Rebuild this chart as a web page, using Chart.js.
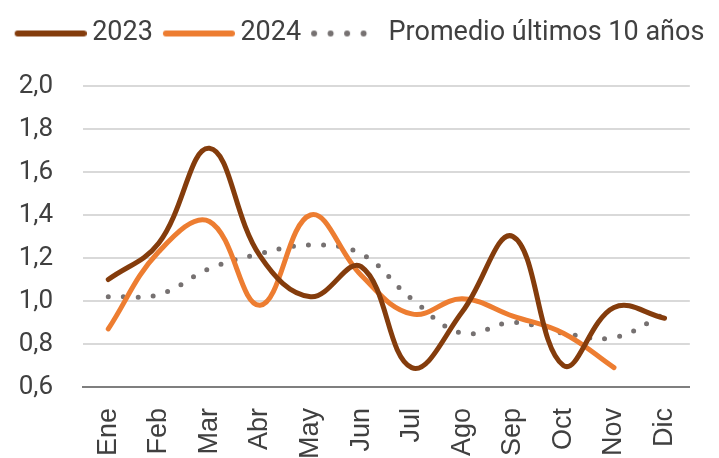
<!DOCTYPE html>
<html>
	<head>
		<title>Promedio mensual</title>
        <meta charset="UTF-8">
        <script src="https://cdn.jsdelivr.net/npm/chart.js@4"></script>
        <style>
            html, body { margin: 0; padding: 0; background: #fff; }
            #wrap { width: 719px; height: 458px; position: relative; }
        </style>
	</head>
	<body>
		<div id="wrap"><canvas id="myChart"></canvas></div>
		<script>
            // categories and values
            const months = ['Ene', 'Feb', 'Mar', 'Abr', 'May', 'Jun', 'Jul', 'Ago', 'Sep', 'Oct', 'Nov', 'Dic'];
            const values2023 = [1.10, 1.27, 1.71, 1.21, 1.02, 1.16, 0.69, 0.95, 1.30, 0.70, 0.97, 0.92];
            const values2024 = [0.87, 1.23, 1.37, 0.98, 1.40, 1.12, 0.94, 1.01, 0.93, 0.85, 0.69, null];
            const promedio = [1.02, 1.03, 1.15, 1.22, 1.26, 1.22, 1.01, 0.85, 0.90, 0.85, 0.83, 0.94];
            const seriesNames = ['2023', '2024', 'Promedio últimos 10 años'];
            const yTicks = [0.6, 0.8, 1.0, 1.2, 1.4, 1.6, 1.8, 2.0];

            const textColor = '#404040';

            // small legend swatch drawn as an image, line on the right part of it
            function swatch(color, width, dash){
                const c = document.createElement('canvas');
                c.width = 80; c.height = 10;
                const g = c.getContext('2d');
                g.strokeStyle = color;
                g.lineWidth = width;
                g.lineCap = 'round';
                g.setLineDash(dash);
                g.beginPath();
                g.moveTo(11, 5);
                g.lineTo(77, 5);
                g.stroke();
                return c;
            }

            // extra space under the legend
            const legendGap = {
                id: 'legendGap',
                beforeInit(chart){
                    const fit = chart.legend.fit;
                    chart.legend.fit = function(){
                        fit.bind(chart.legend)();
                        this.height += 29;
                    };
                }
            };

            const ctx = document.getElementById('myChart').getContext('2d');
            const chart = new Chart(ctx, {
                type: 'line',
                data: {
                    labels: months,
                    datasets: [{
                        label: seriesNames[0],
                        data: values2023,
                        borderColor: '#843C0C',
                        backgroundColor: '#843C0C',
                        borderWidth: 5,
                        borderCapStyle: 'round',
                        pointRadius: 0,
                        tension: 0.4,
                        fill: false,
                        legendSwatch: swatch('#843C0C', 6, [])
                    }, {
                        label: seriesNames[1],
                        data: values2024,
                        borderColor: '#ED7D31',
                        backgroundColor: '#ED7D31',
                        borderWidth: 5,
                        borderCapStyle: 'round',
                        pointRadius: 0,
                        tension: 0.4,
                        fill: false,
                        legendSwatch: swatch('#ED7D31', 6, [])
                    }, {
                        label: seriesNames[2],
                        data: promedio,
                        borderColor: '#767171',
                        backgroundColor: '#767171',
                        borderWidth: 5,
                        borderCapStyle: 'round',
                        borderDash: [0, 15],
                        pointRadius: 0,
                        tension: 0.4,
                        fill: false,
                        legendSwatch: swatch('#767171', 6, [0, 16.5])
                    }]
                },
                plugins: [legendGap],
                options: {
                    responsive: true,
                    maintainAspectRatio: false,
                    animation: false,
                    layout: { padding: { left: 0, right: 0, top: 10, bottom: 0 } },
                    plugins: {
                        tooltip: { enabled: false },
                        legend: {
                            position: 'top',
                            labels: {
                                usePointStyle: true,
                                pointStyleWidth: 64,
                                boxHeight: 10,
                                padding: 10,
                                color: textColor,
                                font: { family: 'Roboto', size: 27 },
                                generateLabels: function(chart){
                                    const items = Chart.defaults.plugins.legend.labels.generateLabels(chart);
                                    items.forEach(item => {
                                        item.pointStyle = chart.data.datasets[item.datasetIndex].legendSwatch;
                                    });
                                    return items;
                                }
                            }
                        }
                    },
                    scales: {
                        x: {
                            offset: true,
                            grid: { display: false, drawTicks: false },
                            border: { display: true, color: '#7f7f7f', width: 2 },
                            afterFit: s => { s.height = 71; },
                            ticks: {
                                color: textColor,
                                font: { family: "'Liberation Sans Narrow', 'Liberation Sans'", size: 27 },
                                minRotation: 90,
                                maxRotation: 90,
                                padding: 21,
                                autoSkip: false
                            }
                        },
                        y: {
                            min: 0.6,
                            max: 2.0,
                            afterBuildTicks: function(scale){
                                scale.ticks = yTicks.map(v => ({ value: v }));
                            },
                            afterFit: s => { s.width = 83; },
                            grid: { color: '#d9d9d9', lineWidth: 2, drawTicks: false },
                            border: { display: false },
                            ticks: {
                                color: textColor,
                                font: { family: 'Roboto', size: 26 },
                                padding: 30,
                                callback: v => v.toFixed(1).replace('.', ',')
                            }
                        },
                        yRight: {
                            position: 'right',
                            afterFit: s => { s.width = 25; },
                            grid: { display: false, drawTicks: false },
                            border: { display: false },
                            ticks: { display: false }
                        }
                    }
                }
            });
		</script>
	</body>
</html>
